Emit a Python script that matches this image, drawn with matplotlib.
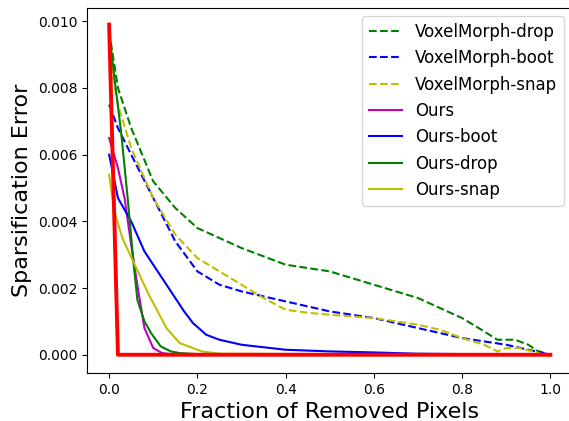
import matplotlib
matplotlib.use("Agg")
import matplotlib.pyplot as plt

# VoxelMorph baselines (dashed)
vm_drop_x = [0, 0.02, 0.05, 0.1, 0.15, 0.2, 0.25, 0.3, 0.4, 0.5, 0.55, 0.6, 0.65, 0.7,
             0.75, 0.8, 0.85, 0.88, 0.9, 0.92, 0.95, 0.97, 1.0]
vm_drop_y = [0.0097, 0.0080, 0.0068, 0.0052, 0.0044, 0.0038, 0.0035, 0.0032, 0.0027,
             0.0025, 0.0023, 0.0021, 0.0019, 0.0017, 0.0014, 0.0011, 0.0007, 0.00045,
             0.00045, 0.00045, 0.0003, 0.00012, 0.0]

vm_boot_x = [0, 0.02, 0.05, 0.1, 0.15, 0.2, 0.25, 0.3, 0.4, 0.5, 0.6, 0.7, 0.8, 0.9, 0.95, 1.0]
vm_boot_y = [0.0075, 0.0068, 0.0060, 0.0047, 0.0034, 0.0025, 0.0021, 0.0019, 0.0016,
             0.0013, 0.0011, 0.0008, 0.0005, 0.0003, 0.00015, 0.0]

vm_snap_x = [0, 0.02, 0.05, 0.1, 0.15, 0.2, 0.25, 0.3, 0.35, 0.4, 0.45, 0.5, 0.6, 0.7,
             0.75, 0.8, 0.85, 0.88, 0.9, 0.93, 0.96, 1.0]
vm_snap_y = [0.0090, 0.0075, 0.0062, 0.0047, 0.0036, 0.0029, 0.0025, 0.0021, 0.0017,
             0.00135, 0.00126, 0.0012, 0.0011, 0.0009, 0.00075, 0.0005, 0.0003, 0.0001,
             0.0002, 0.0002, 0.0001, -0.00005]

# Ours variants (solid)
ours_x = [0, 0.02, 0.035, 0.05, 0.065, 0.08, 0.1, 0.12, 0.15, 1.0]
ours_y = [0.0065, 0.0056, 0.0047, 0.0033, 0.0020, 0.0008, 0.0002, 0.00005, 0.0, 0.0]

ours_boot_x = [0, 0.02, 0.05, 0.08, 0.11, 0.14, 0.17, 0.19, 0.22, 0.25, 0.3, 0.4, 0.5,
               0.6, 0.7, 1.0]
ours_boot_y = [0.0060, 0.0047, 0.0040, 0.0031, 0.0025, 0.0019, 0.0013, 0.00095, 0.0006,
               0.00045, 0.0003, 0.00015, 0.0001, 0.00007, 0.00003, 0.0]

ours_drop_x = [0, 0.012, 0.027, 0.042, 0.055, 0.064, 0.08, 0.095, 0.117, 0.14, 0.16, 0.2, 1.0]
ours_drop_y = [0.0097, 0.0083, 0.0067, 0.0047, 0.0028, 0.00165, 0.0010, 0.00065, 0.00025,
               0.0001, 0.00005, 0.00002, 0.0]

ours_snap_x = [0, 0.012, 0.03, 0.065, 0.09, 0.11, 0.13, 0.16, 0.21, 0.25, 1.0]
ours_snap_y = [0.0054, 0.0043, 0.0035, 0.0025, 0.0018, 0.0013, 0.0008, 0.00035, 0.0001,
               0.00003, 0.0]

# oracle curve (no legend entry)
oracle_x = [0, 0.02, 1.0]
oracle_y = [0.0099, 0.0, 0.0]

fig, ax = plt.subplots(figsize=(5.69, 4.21), dpi=100)

ax.plot(vm_drop_x, vm_drop_y, "g--", label="VoxelMorph-drop")
ax.plot(vm_boot_x, vm_boot_y, "b--", label="VoxelMorph-boot")
ax.plot(vm_snap_x, vm_snap_y, "y--", label="VoxelMorph-snap")
ax.plot(ours_x, ours_y, "m-", label="Ours")
ax.plot(ours_boot_x, ours_boot_y, "b-", label="Ours-boot")
ax.plot(ours_drop_x, ours_drop_y, "g-", label="Ours-drop")
ax.plot(ours_snap_x, ours_snap_y, "y-", label="Ours-snap")
ax.plot(oracle_x, oracle_y, "r-", linewidth=2.8)

ax.set_xlabel("Fraction of Removed Pixels", fontsize=16)
ax.set_ylabel("Sparsification Error", fontsize=16)
ax.legend(loc="upper right", fontsize=12)

# the original was cropped tightly, so the right spine sits just past the edge
fig.subplots_adjust(left=0.153, right=1.006, top=0.981, bottom=0.114)
fig.savefig("out.png")
plt.close(fig)
